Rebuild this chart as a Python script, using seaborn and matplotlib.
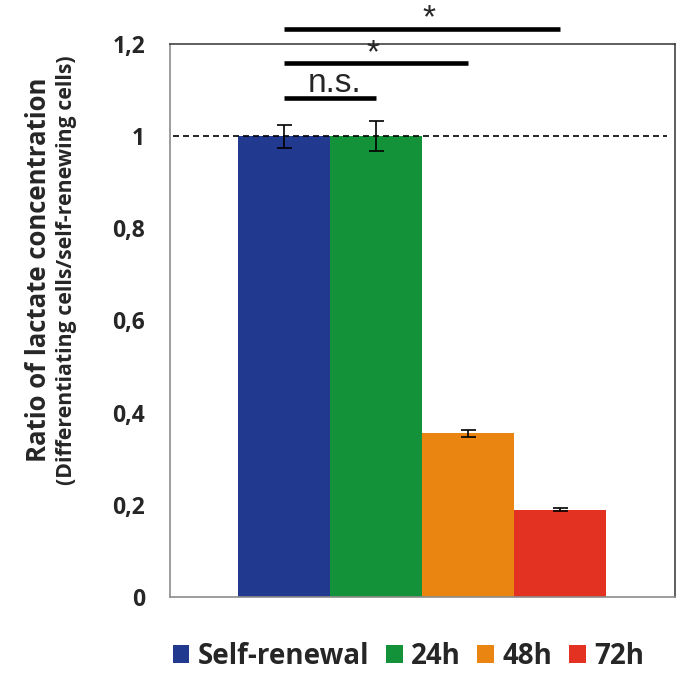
import matplotlib
matplotlib.use("Agg")
import matplotlib.pyplot as plt
import seaborn as sns
import pandas as pd

# data
groups = ["Self-renewal", "24h", "48h", "72h"]
ratio = [1.0, 1.0, 0.355, 0.189]
ratio_err = [0.025, 0.033, 0.008, 0.003]
colors = ["#213a8f", "#13923a", "#ea8512", "#e33222"]

# significance brackets: (from group, to group, y, label, label x)
brackets = [
    (0, 1, 1.083, "n.s.", 0.554),
    (0, 2, 1.159, "*", 0.967),
    (0, 3, 1.233, "*", 1.576),
]

sns.set_style("white")
plt.rcParams["font.family"] = ["Open Sans", "DejaVu Sans"]

df = pd.DataFrame({"group": groups, "ratio": ratio})

fig = plt.figure(figsize=(6.8, 6.76), dpi=100)
ax = fig.add_axes([0.25, 0.1169, 0.7426, 0.8182])

sns.barplot(data=df, x="group", y="ratio", hue="group", palette=colors,
            width=1.0, dodge=False, legend=True, errorbar=None,
            saturation=1, linewidth=0, ax=ax)
ax.errorbar(range(len(groups)), ratio, yerr=ratio_err, fmt="none",
            ecolor="black", elinewidth=1.2, capsize=5.4, capthick=1.2, zorder=5)

ax.axhline(1.0, xmin=0.005, xmax=0.985, color="black", ls=(0, (3.6, 2.4)),
           lw=1.2, zorder=4)

for x0, x1, y, label, lx in brackets:
    ax.plot([x0, x1], [y, y], color="black", lw=3.3, solid_capstyle="butt",
            clip_on=False, zorder=6)
    if label == "*":
        ax.text(lx, y + 0.002, label, ha="center", va="baseline", fontsize=24,
                family="Liberation Sans", clip_on=False)
    else:
        ax.text(lx, y + 0.013, label, ha="center", va="baseline", fontsize=24,
                family="Liberation Sans", clip_on=False)

ax.set_xlim(-1.24, 4.25)
ax.set_ylim(0, 1.2)
ax.set_yticks([0, 0.2, 0.4, 0.6, 0.8, 1.0, 1.2])
ax.set_yticklabels(["0", "0,2", "0,4", "0,6", "0,8", "1", "1,2"],
                   fontsize=16.5, fontweight="bold")
ax.set_xticks([-1.24, 4.25])
ax.set_xticklabels(["", ""])
ax.set_xlabel("")

# y label: first line larger, second line smaller (as in the original)
ax.set_ylabel("Ratio of lactate concentration", fontsize=18.5,
              fontweight="bold", va="center")
ax.yaxis.set_label_coords(-0.261, 0.591)
ax.text(-0.204, 0.591, "(Differentiating cells/self-renewing cells)",
        transform=ax.transAxes, rotation=90, ha="center", va="center",
        fontsize=15.3, fontweight="bold")

ax.tick_params(axis="y", direction="out", length=7, width=1, color="#888888", pad=11)
ax.tick_params(axis="x", direction="out", length=6, width=1, color="#888888")

for side in ["left", "bottom"]:
    ax.spines[side].set_color("#8c8c8c")
    ax.spines[side].set_linewidth(1.2)
for side in ["top", "right"]:
    ax.spines[side].set_color("#333333")
    ax.spines[side].set_linewidth(1.1)

sns.move_legend(ax, "center", bbox_to_anchor=(0.472, -0.1076), ncol=4,
                frameon=False, title=None, fontsize=20,
                handlelength=0.6, handleheight=0.6, handletextpad=0.3,
                columnspacing=0.6, borderaxespad=0)
for t in ax.get_legend().get_texts():
    t.set_fontweight("bold")

fig.savefig("out.png", dpi=100)
